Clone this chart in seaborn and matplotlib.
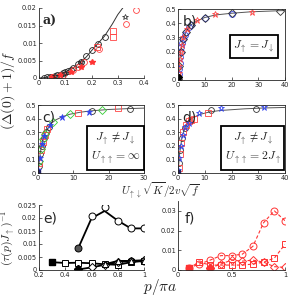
import matplotlib
matplotlib.use("Agg")
import matplotlib.pyplot as plt
import seaborn as sns

# ---- panel a ----
a_curve_x = [0.0, 0.02, 0.05, 0.08, 0.1, 0.13, 0.15, 0.18, 0.2, 0.225, 0.25, 0.28, 0.3, 0.325]
a_curve_y = [0.0, 0.0001, 0.0004, 0.001, 0.0016, 0.0029, 0.004, 0.006, 0.0078, 0.0099, 0.012, 0.0155, 0.0181, 0.0206]
a_bc_x = [0.02, 0.03, 0.04, 0.05, 0.06, 0.07, 0.08, 0.09, 0.1, 0.11, 0.12, 0.13, 0.15, 0.16, 0.18, 0.2, 0.225, 0.25]
a_bc_y = [0.0001, 0.0002, 0.0003, 0.0004, 0.0006, 0.0008, 0.001, 0.0013, 0.0016, 0.002, 0.0024, 0.0029, 0.004, 0.0046, 0.0062, 0.0079, 0.0098, 0.0118]
a_rc_x = [0.05, 0.09, 0.13, 0.15, 0.17, 0.23, 0.33, 0.37]
a_rc_y = [0.0003, 0.001, 0.0022, 0.0032, 0.0045, 0.0083, 0.0155, 0.0195]
a_rs_x = [0.22, 0.28, 0.28]
a_rs_y = [0.0088, 0.0118, 0.0133]
a_rstar_x = [0.05, 0.08, 0.12, 0.16, 0.2]
a_rstar_y = [0.0003, 0.0008, 0.0018, 0.0032, 0.0047]
a_kstar_x = [0.06, 0.1, 0.16, 0.327]
a_kstar_y = [0.0006, 0.0015, 0.0046, 0.0175]

# ---- panel b ----
b_curve_x = [0, 0.3, 0.5, 0.8, 1, 1.5, 2, 3, 4, 5, 7, 10, 14, 20, 27, 38, 40]
b_curve_y = [0, 0.06, 0.11, 0.17, 0.2, 0.25, 0.29, 0.34, 0.37, 0.39, 0.415, 0.44, 0.458, 0.47, 0.48, 0.488, 0.489]
b_dia_x = [0.1, 0.5, 1, 2, 3, 5, 10, 20, 38]
b_dia_y = [0.01, 0.1, 0.2, 0.29, 0.34, 0.39, 0.44, 0.469, 0.488]
b_circ_x = [0.2, 0.4, 0.6, 0.8, 1, 1.3, 1.6, 2, 2.5, 3, 4, 5, 10, 20]
b_circ_y = [0.04, 0.08, 0.12, 0.16, 0.2, 0.23, 0.26, 0.29, 0.32, 0.34, 0.37, 0.385, 0.435, 0.465]
b_star_x = [0.3, 0.5, 0.7, 1, 1.5, 2, 3.5, 7, 14, 27.5]
b_star_y = [0.05, 0.1, 0.15, 0.2, 0.25, 0.3, 0.36, 0.42, 0.462, 0.482]

# ---- panel c ----
c_curve_x = [0, 0.3, 0.6, 1, 1.5, 2, 3, 4, 5, 7, 9, 12, 15, 20, 26, 30]
c_curve_y = [0, 0.07, 0.14, 0.2, 0.25, 0.29, 0.34, 0.37, 0.39, 0.415, 0.432, 0.447, 0.457, 0.467, 0.474, 0.477]
c_k_x = [0.2, 0.6, 1, 1.6, 2.2, 3, 15.2, 26]
c_k_y = [0.05, 0.14, 0.2, 0.26, 0.3, 0.335, 0.455, 0.473]
c_r_x = [0.3, 0.8, 1.3, 1.9, 2.6, 11.2, 22.7]
c_r_y = [0.07, 0.17, 0.23, 0.28, 0.32, 0.444, 0.476]
c_g_x = [0.4, 0.9, 1.5, 2.1, 4.3, 9, 18]
c_g_y = [0.09, 0.18, 0.25, 0.29, 0.375, 0.434, 0.463]
c_b_x = [0.1, 0.5, 1.1, 1.7, 3.3, 6.7, 14.5]
c_b_y = [0.02, 0.11, 0.21, 0.27, 0.35, 0.41, 0.45]

# ---- panel d ----
d_curve_x = [0, 0.3, 0.6, 1, 1.5, 2, 3, 4, 5, 6, 8, 12, 16, 25, 32, 40]
d_curve_y = [0, 0.07, 0.14, 0.2, 0.26, 0.3, 0.35, 0.38, 0.4, 0.41, 0.43, 0.45, 0.46, 0.472, 0.478, 0.482]
d_k_x = [0.3, 0.8, 1.5, 2.5, 12.5, 29]
d_k_y = [0.07, 0.17, 0.26, 0.33, 0.463, 0.468]
d_r_x = [0.2, 0.6, 1.2, 2, 3, 4, 5, 6, 11.3]
d_r_y = [0.04, 0.14, 0.22, 0.3, 0.35, 0.38, 0.39, 0.4, 0.44]
d_b_x = [0.1, 0.5, 1, 1.8, 2.8, 4, 8, 16, 32]
d_b_y = [0.02, 0.11, 0.2, 0.28, 0.34, 0.37, 0.44, 0.476, 0.483]

# ---- panel e ----
e_p_circ = [0.5, 0.6, 0.7, 0.8, 0.9, 1.0]
e_line_circ = [0.0085, 0.0199, 0.0227, 0.019, 0.016, 0.016]
e_mark_circ = [0.0085, 0.0209, 0.0244, 0.019, 0.016, 0.016]
e_p_sq = [0.3, 0.4, 0.5, 0.6, 0.7, 0.8, 0.9, 1.0]
e_sq = [0.003, 0.0027, 0.0028, 0.0026, 0.0022, 0.002, 0.003, 0.0035]
e_p_dia = [0.5, 0.6, 0.7, 0.8, 0.9, 1.0]
e_dia = [0.0002, 0.001, 0.002, 0.003, 0.0035, 0.0037]
e_p_tri = [0.7, 0.8, 0.9, 1.0]
e_tri = [0.0022, 0.0035, 0.0035, 0.0036]

# ---- panel f ----
f_p = [0.1, 0.2, 0.3, 0.4, 0.5, 0.6, 0.7, 0.8, 0.9, 1.0]
f_circ = [0.001, 0.003, 0.005, 0.0073, 0.0073, 0.008, 0.012, 0.024, 0.030, 0.025]
f_sq = [0.001, 0.004, 0.0025, 0.0025, 0.0025, 0.0025, 0.003, 0.004, 0.006, 0.013]
f_p_dia = [0.3, 0.4, 0.5, 0.6, 0.7, 0.8, 0.9, 1.0]
f_dia = [0.001, 0.003, 0.005, 0.0045, 0.005, 0.004, 0.0017, 0.0013]

sns.set_theme(style="ticks")
plt.rcParams["font.family"] = ["DejaVu Sans"]
plt.rcParams["mathtext.fontset"] = "cm"
plt.rcParams["xtick.direction"] = "in"
plt.rcParams["ytick.direction"] = "in"

fig = plt.figure(figsize=(2.99, 2.96), dpi=100)

def px_axes(l, t, r, b):
    return fig.add_axes([l / 299, 1 - b / 296, (r - l) / 299, (b - t) / 296])

ax_a = px_axes(39, 8, 144, 78)
ax_b = px_axes(178, 9, 285, 80)
ax_c = px_axes(38, 105, 144, 173)
ax_d = px_axes(178, 105, 285, 173)
ax_e = px_axes(39, 205, 144, 270)
ax_f = px_axes(178, 201, 285, 270)

ms = 4.2
mk = dict(linestyle="none", markerfacecolor="none", markersize=ms, markeredgewidth=0.6)

# a
sns.lineplot(x=a_curve_x, y=a_curve_y, ax=ax_a, color="#333333", lw=0.7)
ax_a.plot(a_bc_x, a_bc_y, "o", color="#222222", **mk)
ax_a.plot(a_rc_x, a_rc_y, "o", color="#ff4444", **mk)
ax_a.plot(a_rs_x, a_rs_y, "s", color="#ff4444", **mk)
ax_a.plot(a_rstar_x, a_rstar_y, "*", color="#ff3333", linestyle="none", markersize=4)
ax_a.plot(a_kstar_x, a_kstar_y, "*", color="#222222", linestyle="none", markersize=4, markerfacecolor="none", markeredgewidth=0.5)
ax_a.set_xlim(0, 0.4)
ax_a.set_ylim(0, 0.02)
ax_a.set_xticks([0, 0.1, 0.2, 0.3, 0.4])
ax_a.set_xticklabels(["0", "0.1", "0.2", "0.3", "0.4"])
ax_a.set_yticks([0, 0.005, 0.01, 0.015, 0.02])
ax_a.set_yticklabels(["0", "0.005", "0.01", "0.015", "0.02"])
sns.despine(ax=ax_a)
ax_a.text(0.03, 0.9, "a)", transform=ax_a.transAxes, fontsize=9, fontweight="bold",
          family="DejaVu Serif", va="top")

# b
sns.lineplot(x=b_curve_x, y=b_curve_y, ax=ax_b, color="#555555", lw=0.7)
ax_b.plot(b_circ_x, b_circ_y, "o", color="#3344ee", **mk)
ax_b.plot(b_dia_x, b_dia_y, "D", color="#333333", linestyle="none", markerfacecolor="none", markersize=3.6, markeredgewidth=0.6)
ax_b.plot(b_star_x, b_star_y, "*", color="#ff4444", linestyle="none", markerfacecolor="none", markersize=5, markeredgewidth=0.6)
ax_b.plot([0.1, 0.3], [0.0, 0.02], "D", color="black", linestyle="none", markersize=3)
ax_b.set_xlim(0, 40)
ax_b.set_ylim(0, 0.5)
ax_b.set_xticks([0, 10, 20, 30, 40])
ax_b.set_yticks([0, 0.1, 0.2, 0.3, 0.4, 0.5])
ax_b.set_yticklabels(["0", "0.1", "0.2", "0.3", "0.4", "0.5"])
ax_b.text(0.04, 0.92, "b)", transform=ax_b.transAxes, fontsize=10, va="top")
ax_b.text(0.71, 0.47, r"$J_\uparrow = J_\downarrow$", transform=ax_b.transAxes, fontsize=8.5,
          ha="center", va="center",
          bbox=dict(boxstyle="square,pad=0.3", fc="white", ec="black", lw=1.3))

# c
sns.lineplot(x=c_curve_x, y=c_curve_y, ax=ax_c, color="#555555", lw=0.7)
ax_c.plot(c_k_x, c_k_y, "o", color="#333333", **mk)
ax_c.plot(c_r_x, c_r_y, "s", color="#ff4444", **mk)
ax_c.plot(c_g_x, c_g_y, "D", color="#33cc33", linestyle="none", markerfacecolor="none", markersize=3.6, markeredgewidth=0.6)
ax_c.plot(c_b_x, c_b_y, "*", color="#3344ee", linestyle="none", markersize=4.5, markeredgewidth=0.5)
ax_c.plot([0.1], [0.01], "s", color="#222266", markersize=3)
ax_c.set_xlim(0, 30)
ax_c.set_ylim(0, 0.5)
ax_c.set_xticks([0, 10, 20, 30])
ax_c.set_yticks([0, 0.1, 0.2, 0.3, 0.4, 0.5])
ax_c.set_yticklabels(["0", "0.1", "0.2", "0.3", "0.4", "0.5"])
ax_c.text(0.04, 0.92, "c)", transform=ax_c.transAxes, fontsize=10, va="top")
ax_c.text(0.73, 0.37, "$J_\\uparrow \\neq J_\\downarrow$\n$U_{\\uparrow\\uparrow} = \\infty$",
          transform=ax_c.transAxes, fontsize=8.5, ha="center", va="center", linespacing=1.2,
          bbox=dict(boxstyle="square,pad=0.3", fc="white", ec="black", lw=1.3))

# d
sns.lineplot(x=d_curve_x, y=d_curve_y, ax=ax_d, color="#555555", lw=0.7)
ax_d.plot(d_k_x, d_k_y, "o", color="#333333", **mk)
ax_d.plot(d_r_x, d_r_y, "s", color="#ff4444", **mk)
ax_d.plot(d_b_x, d_b_y, "*", color="#3344ee", linestyle="none", markerfacecolor="none", markersize=5, markeredgewidth=0.6)
ax_d.plot([0.1], [0.01], "s", color="#222266", markersize=3)
ax_d.set_xlim(0, 40)
ax_d.set_ylim(0, 0.5)
ax_d.set_xticks([0, 10, 20, 30, 40])
ax_d.set_yticks([0, 0.1, 0.2, 0.3, 0.4, 0.5])
ax_d.set_yticklabels(["0", "0.1", "0.2", "0.3", "0.4", "0.5"])
ax_d.text(0.04, 0.92, "d)", transform=ax_d.transAxes, fontsize=10, va="top")
ax_d.text(0.7, 0.37, "$J_\\uparrow \\neq J_\\downarrow$\n$U_{\\uparrow\\uparrow} = 2J_\\uparrow$",
          transform=ax_d.transAxes, fontsize=8.5, ha="center", va="center", linespacing=1.2,
          bbox=dict(boxstyle="square,pad=0.3", fc="white", ec="black", lw=1.3))

# e
lw_e = 1.3
ax_e.plot(e_p_circ, e_line_circ, "-", color="black", lw=lw_e)
ax_e.plot(e_p_circ[1:], e_mark_circ[1:], "o", color="black", markerfacecolor="white", markersize=5, markeredgewidth=0.7, linestyle="none")
ax_e.plot(e_p_circ[:1], e_mark_circ[:1], "o", color="black", markerfacecolor="#555555", markersize=5, markeredgewidth=0.7)
ax_e.plot(e_p_sq, e_sq, "-s", color="black", lw=lw_e, markerfacecolor="white", markersize=4.5, markeredgewidth=0.7)
ax_e.plot(e_p_sq[:1], e_sq[:1], "s", color="black", markersize=4.5)
ax_e.plot(e_p_dia, e_dia, "-D", color="black", lw=lw_e, markerfacecolor="white", markersize=4, markeredgewidth=0.7)
ax_e.plot(e_p_dia[:1], e_dia[:1], "D", color="black", markersize=4)
ax_e.plot(e_p_tri, e_tri, "-^", color="black", lw=lw_e, markerfacecolor="white", markersize=4.5, markeredgewidth=0.7)
ax_e.plot(e_p_tri[2:], e_tri[2:], "o", color="black", markerfacecolor="none", markersize=5, markeredgewidth=0.7, linestyle="none")
ax_e.set_xlim(0.2, 1.0)
ax_e.set_ylim(0, 0.025)
ax_e.set_xticks([0.2, 0.4, 0.6, 0.8, 1.0])
ax_e.set_xticklabels(["0.2", "0.4", "0.6", "0.8", "1"])
ax_e.set_yticks([0, 0.005, 0.01, 0.015, 0.02, 0.025])
ax_e.set_yticklabels(["0", "0.005", "0.01", "0.015", "0.02", "0.025"])
sns.despine(ax=ax_e)
ax_e.text(0.04, 0.9, "e)", transform=ax_e.transAxes, fontsize=10, va="top")

# f
red = "#ff3333"
fk = dict(color=red, lw=0.8, linestyle=(0, (3, 2)), markerfacecolor="none", markeredgewidth=0.7)
ax_f.plot(f_p, f_circ, marker="o", markersize=5, **fk)
ax_f.plot(f_p, f_sq, marker="s", markersize=4.2, **fk)
ax_f.plot(f_p_dia, f_dia, marker="D", markersize=4, **fk)
ax_f.plot(f_p[:1], f_sq[:1], "s", color=red, markersize=4)
ax_f.plot(f_p_dia[:1], f_dia[:1], "D", color=red, markersize=4)
ax_f.set_xlim(0, 1.0)
ax_f.set_ylim(0, 0.035)
ax_f.set_xticks([0, 0.5, 1.0])
ax_f.set_xticklabels(["0", "0.5", "1"])
ax_f.set_yticks([0, 0.01, 0.02, 0.03])
ax_f.set_yticklabels(["0", "0.01", "0.02", "0.03"])
sns.despine(ax=ax_f)
ax_f.text(0.06, 0.85, "f)", transform=ax_f.transAxes, fontsize=10, va="top")

for ax in [ax_a, ax_b, ax_c, ax_d, ax_e, ax_f]:
    ax.tick_params(labelsize=4.8, length=2, width=0.5, pad=1.5)
    for s in ax.spines.values():
        s.set_linewidth(0.6)

fig.text(8 / 299, 1 - 90 / 296, r"$(\Delta(0)+1)/f$", rotation=90, fontsize=10, ha="center", va="center")
fig.text(160 / 299, 1 - 191 / 296, r"$U_{\uparrow\downarrow}\sqrt{K}/2v\sqrt{f}$", fontsize=8, ha="center", va="center")
fig.text(8 / 299, 1 - 238 / 296, r"$(\tau(p)J_\uparrow)^{-1}$", rotation=90, fontsize=8.5, ha="center", va="center")
fig.text(160 / 299, 1 - 287 / 296, r"$p/\pi a$", fontsize=11, ha="center", va="center")

fig.savefig("out.png", dpi=100)
